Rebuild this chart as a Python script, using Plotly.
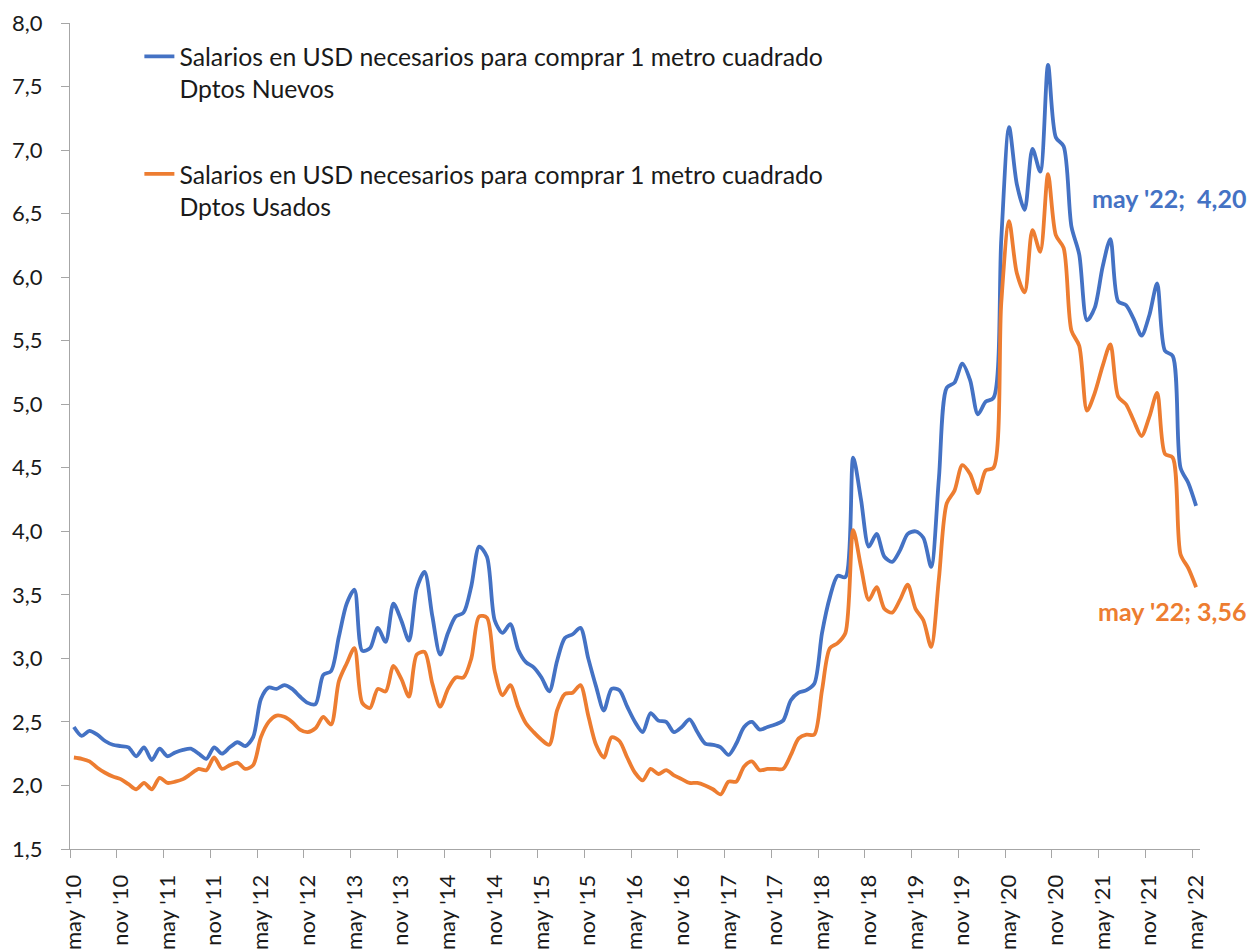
import plotly.graph_objects as go

# Monthly data, may 2010 .. may 2022 (145 months)
nuevos = [
    2.46, 2.39, 2.43, 2.40, 2.35, 2.32, 2.31, 2.30, 2.23, 2.30,
    2.20, 2.29, 2.23, 2.26, 2.28, 2.29, 2.25, 2.21, 2.30, 2.25,
    2.30, 2.34, 2.31, 2.38, 2.68, 2.77, 2.76, 2.79, 2.76, 2.70,
    2.65, 2.64, 2.87, 2.90, 3.17, 3.43, 3.54, 3.06, 3.08, 3.24,
    3.13, 3.43, 3.30, 3.14, 3.55, 3.68, 3.33, 3.03, 3.20, 3.33,
    3.36, 3.57, 3.88, 3.80, 3.30, 3.20, 3.27, 3.07, 2.97, 2.93,
    2.85, 2.74, 2.98, 3.16, 3.19, 3.24, 3.00, 2.78, 2.59, 2.76,
    2.75, 2.62, 2.50, 2.42, 2.57, 2.51, 2.50, 2.42, 2.46, 2.52,
    2.42, 2.33, 2.32, 2.30, 2.24, 2.33, 2.46, 2.50, 2.44, 2.46,
    2.48, 2.51, 2.67, 2.73, 2.75, 2.80, 3.20, 3.48, 3.65, 3.64,
    4.58, 4.25, 3.88, 3.98, 3.80, 3.76, 3.85, 3.98, 4.00, 3.95,
    3.72, 4.42, 5.13, 5.17, 5.32, 5.19, 4.92, 5.02, 5.05, 6.30,
    7.18, 6.73, 6.53, 7.01, 6.83, 7.67, 7.10, 7.03, 6.40, 6.18,
    5.66, 5.76, 6.08, 6.30, 5.81, 5.78, 5.67, 5.54, 5.70, 5.95,
    5.42, 5.38, 4.50, 4.38, 4.20,
]

usados = [
    2.22, 2.21, 2.19, 2.14, 2.10, 2.07, 2.05, 2.01, 1.97, 2.02,
    1.97, 2.06, 2.02, 2.03, 2.05, 2.09, 2.13, 2.12, 2.22, 2.13,
    2.16, 2.18, 2.13, 2.16, 2.38, 2.50, 2.55, 2.54, 2.50, 2.44,
    2.42, 2.45, 2.54, 2.48, 2.82, 2.96, 3.08, 2.65, 2.61, 2.76,
    2.74, 2.94, 2.84, 2.70, 3.03, 3.05, 2.80, 2.62, 2.76, 2.85,
    2.85, 3.00, 3.33, 3.32, 2.90, 2.71, 2.79, 2.62, 2.49, 2.42,
    2.36, 2.32, 2.59, 2.72, 2.73, 2.79, 2.55, 2.32, 2.22, 2.38,
    2.35, 2.22, 2.10, 2.04, 2.13, 2.09, 2.12, 2.08, 2.05, 2.02,
    2.02, 2.00, 1.97, 1.93, 2.03, 2.03, 2.15, 2.19, 2.12, 2.13,
    2.13, 2.13, 2.24, 2.37, 2.40, 2.40, 2.75, 3.08, 3.12, 3.20,
    4.01, 3.72, 3.46, 3.56, 3.39, 3.36, 3.46, 3.58, 3.39, 3.30,
    3.09, 3.63, 4.22, 4.32, 4.52, 4.45, 4.30, 4.48, 4.50, 5.80,
    6.44, 6.03, 5.88, 6.37, 6.20, 6.81, 6.33, 6.23, 5.58, 5.46,
    4.95, 5.09, 5.30, 5.47, 5.06, 5.00, 4.87, 4.75, 4.90, 5.09,
    4.61, 4.58, 3.82, 3.71, 3.56,
]

tick_labels = [
    "may '10", "nov '10", "may '11", "nov '11", "may '12", "nov '12",
    "may '13", "nov '13", "may '14", "nov '14", "may '15", "nov '15",
    "may '16", "nov '16", "may '17", "nov '17", "may '18", "nov '18",
    "may '19", "nov '19", "may '20", "nov '20", "may '21", "nov '21",
    "may '22",
]

y_ticks = [1.5, 2.0, 2.5, 3.0, 3.5, 4.0, 4.5, 5.0, 5.5, 6.0, 6.5, 7.0, 7.5, 8.0]

name_nuevos = "Salarios en USD necesarios para comprar 1 metro cuadrado<br>Dptos Nuevos"
name_usados = "Salarios en USD necesarios para comprar 1 metro cuadrado<br>Dptos Usados"

BLUE = "#4472C4"
ORANGE = "#ED7D31"
AXIS = "#A6A6A6"
TXT = "#1a1a1a"
FONT = "Lato"

n = len(nuevos)
x = list(range(n))
label_pos = [6 * k for k in range(len(tick_labels))]
bound_pos = [p - 0.5 for p in label_pos]

fig = go.Figure()
fig.add_trace(go.Scatter(
    x=x, y=nuevos, mode="lines", name=name_nuevos, legendgroup="a",
    line=dict(color=BLUE, width=3.8, shape="spline", smoothing=0.8),
))
fig.add_trace(go.Scatter(
    x=x, y=usados, mode="lines", name=name_usados, legendgroup="b",
    line=dict(color=ORANGE, width=3.8, shape="spline", smoothing=0.8),
))


def fmt(v):
    return f"{v:.2f}".replace(".", ",")


fig.add_annotation(
    x=130.4, y=6.62, xref="x", yref="y", xanchor="left", yanchor="middle",
    text=f"{tick_labels[-1]};\u00a0 {fmt(nuevos[-1])}", showarrow=False,
    font=dict(family=FONT, size=25, color=BLUE, weight="bold"),
)
fig.add_annotation(
    x=131.1, y=3.37, xref="x", yref="y", xanchor="left", yanchor="middle",
    text=f"{tick_labels[-1]}; {fmt(usados[-1])}", showarrow=False,
    font=dict(family=FONT, size=25, color=ORANGE, weight="bold"),
)

xr = [-0.5, n - 0.5]
fig.update_layout(
    width=1248, height=950,
    margin=dict(l=70, r=48, t=23, b=101),
    paper_bgcolor="white", plot_bgcolor="white",
    font=dict(family=FONT, color=TXT),
    showlegend=True,
    legend=dict(
        x=0.0614, y=0.987, xanchor="left", yanchor="top",
        font=dict(family=FONT, size=24.8, color=TXT),
        tracegroupgap=50, valign="top", bgcolor="rgba(0,0,0,0)",
    ),
    xaxis=dict(
        range=xr, showgrid=False, zeroline=False, automargin=False,
        showline=True, linecolor=AXIS, linewidth=1.3,
        tickmode="array", tickvals=bound_pos, ticks="outside",
        ticklen=8, tickcolor=AXIS, tickwidth=1.3, showticklabels=False,
    ),
    xaxis2=dict(
        range=xr, overlaying="x", anchor="y", side="bottom",
        showgrid=False, zeroline=False, showline=False, automargin=False,
        tickmode="array", tickvals=label_pos, ticktext=tick_labels,
        ticks="outside", ticklen=16, tickcolor="rgba(0,0,0,0)",
        tickangle=-90, tickfont=dict(family=FONT, size=22, color=TXT),
    ),
    yaxis=dict(
        range=[1.5, 8.0], showgrid=False, zeroline=False, automargin=False,
        showline=True, linecolor=AXIS, linewidth=1.3,
        tickmode="array", tickvals=y_ticks,
        ticktext=[f"{v:.1f}".replace(".", ",") for v in y_ticks],
        ticks="outside", ticklen=8, tickcolor=AXIS, tickwidth=1.3,
        ticklabelstandoff=14,
        tickfont=dict(family=FONT, size=22, color=TXT),
    ),
)
fig.add_trace(go.Scatter(x=[None], y=[None], xaxis="x2", showlegend=False,
                         hoverinfo="skip"))

fig.write_html(
    "out.html",
    config={"displayModeBar": False},
    post_script="document.body.style.margin='0';"
                "document.body.style.overflow='hidden';",
)
